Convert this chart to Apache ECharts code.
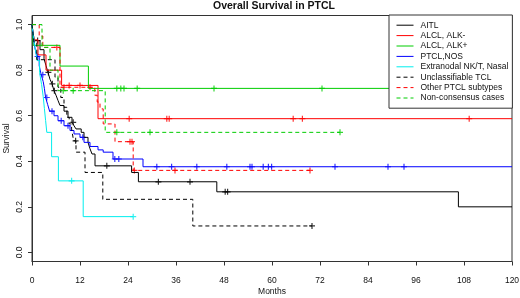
<!DOCTYPE html>
<html>
<head>
<meta charset="utf-8">
<script src="https://cdn.jsdelivr.net/npm/echarts@6/dist/echarts.min.js"></script>
<style>
  html, body { margin: 0; padding: 0; background: #fff; }
  #survivalId { width: 520px; height: 298px; }
</style>
</head>
<body>
<div id="survivalId"></div>
<script>
// month where each curve steps down, and the survival from that month on
var aitlMonths = [0, 0.3, 0.6, 2, 3, 3.5, 4, 4.5, 5, 5.5, 6, 6.5, 7, 8, 9, 10, 10.5, 11, 12.3, 13, 14, 14.5, 15, 15.75, 24.9, 26.6, 46.2, 106.6, 120];
var aitlSurv = [1, 0.96, 0.93, 0.89, 0.85, 0.82, 0.79, 0.76, 0.74, 0.71, 0.69, 0.667, 0.645, 0.62, 0.593, 0.571, 0.556, 0.542, 0.527, 0.505, 0.483, 0.455, 0.432, 0.38, 0.351, 0.31, 0.266, 0.2, 0.2];
var aitlCensor = [1.4, 4.1, 5.1, 5.6, 10.3, 18.7, 31.6, 39.5, 48.3, 48.9];

var alkNegMonths = [0, 0.5, 1.5, 3.5, 7.4, 16.5, 120];
var alkNegSurv = [1, 0.933, 0.867, 0.8, 0.733, 0.587, 0.587];
var alkNegCensor = [9.3, 12, 24.3, 33.7, 34.3, 65.3, 67.6, 109.3];

var alkPosMonths = [0, 0.3, 7, 14.1, 120];
var alkPosSurv = [1, 0.909, 0.818, 0.72, 0.72];
var alkPosCensor = [21.2, 22.2, 23, 26.3, 45.5, 72.5];

var nosMonths = [0, 0.3, 0.7, 1.2, 1.8, 2.3, 2.8, 3.1, 3.4, 3.9, 4.4, 5.5, 6.5, 8, 9.5, 10.5, 12, 13, 14.5, 16.5, 17.8, 20.25, 27.75, 120];
var nosSurv = [1, 0.95, 0.9, 0.86, 0.82, 0.78, 0.75, 0.72, 0.68, 0.65, 0.62, 0.6, 0.578, 0.556, 0.535, 0.52, 0.505, 0.483, 0.465, 0.45, 0.44, 0.41, 0.376, 0.376];
var nosCensor = [1.4, 2.7, 3.7, 5, 7.3, 9, 12.7, 20.7, 21.7, 31.2, 34.9, 41.2, 48.7, 54.5, 55, 57.8, 59.1, 59.9, 75.75, 89, 93];

var nkMonths = [0, 0.4, 0.8, 1.3, 1.9, 2.4, 2.8, 3.1, 3.4, 3.7, 4.9, 6.6, 12.8, 25.3];
var nkSurv = [1, 0.947, 0.895, 0.842, 0.789, 0.737, 0.684, 0.632, 0.579, 0.527, 0.42, 0.314, 0.157, 0.157];
var nkCensor = [9.9, 25.3];

var unclMonths = [0, 0.5, 1.2, 5.75, 6.5, 7.2, 8, 8.7, 9.3, 9.9, 10.4, 11, 13.25, 17.7, 40.2, 70];
var unclSurv = [1, 0.923, 0.846, 0.769, 0.725, 0.68, 0.637, 0.593, 0.564, 0.542, 0.49, 0.44, 0.351, 0.233, 0.116, 0.116];
var unclCensor = [10.9, 70];

var otherMonths = [0, 1.8, 2.7, 7, 15.7, 16.3, 17, 17.8, 20.75, 25.3, 69.5];
var otherSurv = [1, 0.95, 0.9, 0.725, 0.69, 0.66, 0.63, 0.564, 0.486, 0.36, 0.36];
var otherCensor = [6.2, 8, 14.5, 24.5, 25, 25.6, 35.75, 69.5];

var nonConsMonths = [0, 2.5, 4.5, 6.5, 18.3, 77];
var nonConsSurv = [1, 0.9, 0.8, 0.71, 0.527, 0.527];
var nonConsCensor = [7.8, 10.3, 21.2, 29.5, 77];

var xTicks = [0, 12, 24, 36, 48, 60, 72, 84, 96, 108, 120];
var yTicks = [0, 0.2, 0.4, 0.6, 0.8, 1.0];

var curves = [
  { name: "AITL", months: aitlMonths, surv: aitlSurv, censor: aitlCensor, color: "#000000", dashed: false },
  { name: "ALCL, ALK-", months: alkNegMonths, surv: alkNegSurv, censor: alkNegCensor, color: "#ff0000", dashed: false },
  { name: "ALCL, ALK+", months: alkPosMonths, surv: alkPosSurv, censor: alkPosCensor, color: "#00cd00", dashed: false },
  { name: "PTCL,NOS", months: nosMonths, surv: nosSurv, censor: nosCensor, color: "#0000ff", dashed: false },
  { name: "Extranodal NK/T, Nasal", months: nkMonths, surv: nkSurv, censor: nkCensor, color: "#00eeee", dashed: false },
  { name: "Unclassifiable TCL", months: unclMonths, surv: unclSurv, censor: unclCensor, color: "#000000", dashed: true },
  { name: "Other PTCL subtypes", months: otherMonths, surv: otherSurv, censor: otherCensor, color: "#ff0000", dashed: true },
  { name: "Non-consensus cases", months: nonConsMonths, surv: nonConsSurv, censor: nonConsCensor, color: "#00cd00", dashed: true },
];

// survival value of a step curve at month t
function survAt(months, surv, t) {
  var v = surv[0];
  for (var i = 0; i < months.length; i++) {
    if (months[i] <= t) v = surv[i];
  }
  return v;
}

var plusMark = "path://M0,4L10,4L10,6L0,6Z M4,0L6,0L6,10L4,10Z";
var font = "Liberation Sans, Arial, sans-serif";

var series = [];
curves.forEach(function (c) {
  series.push({
    name: c.name,
    type: "line",
    step: "end",
    symbol: "none",
    data: c.months.map(function (m, i) { return [m, c.surv[i]]; }),
    color: c.color,
    lineStyle: { width: 1, type: c.dashed ? [4, 3] : "solid" },
  });
});
curves.forEach(function (c) {
  series.push({
    name: c.name + " censored",
    type: "scatter",
    symbol: plusMark,
    symbolSize: 6,
    silent: true,
    data: c.censor.map(function (m) { return [m, survAt(c.months, c.surv, m)]; }),
    itemStyle: { color: c.color },
  });
});

var myChart = echarts.init(document.getElementById("survivalId"));
var option = {
  animation: false,
  backgroundColor: "#ffffff",
  title: {
    text: "Overall Survival in PTCL",
    left: 213,
    top: 0.5,
    padding: 0,
    textStyle: { fontFamily: font, fontSize: 10.5, fontWeight: "bold", color: "#111" },
  },
  legend: {
    data: curves.map(function (c) { return c.name; }),
    orient: "vertical",
    left: 389,
    top: 15,
    padding: [5, 4, 5, 7],
    itemWidth: 17,
    itemHeight: 10.4,
    itemGap: 0,
    itemStyle: { opacity: 0 },
    lineStyle: { width: 1 },
    backgroundColor: "#ffffff",
    borderColor: "#333",
    borderWidth: 1,
    borderRadius: 0,
    textStyle: { fontFamily: font, fontSize: 8.5, lineHeight: 10.4, color: "#111", padding: [0, 0, 0, 2] },
  },
  grid: {
    left: 32,
    right: 8,
    top: 15.5,
    bottom: 36.5,
    outerBoundsMode: "none",
    show: true,
    borderColor: "#333",
    borderWidth: 1,
  },
  xAxis: {
    type: "value",
    min: xTicks[0],
    max: xTicks[xTicks.length - 1],
    interval: 12,
    name: "Months",
    nameLocation: "middle",
    nameGap: 25.5,
    nameMoveOverlap: false,
    nameTextStyle: { fontFamily: font, fontSize: 8.5, color: "#111" },
    axisLine: { onZero: false, lineStyle: { color: "#333" } },
    axisTick: { length: 4, lineStyle: { color: "#333" } },
    axisLabel: { fontFamily: font, fontSize: 8.5, color: "#111", margin: 14.5 },
    splitLine: { show: false },
  },
  yAxis: {
    type: "value",
    min: -0.04,
    max: 1.04,
    name: "Survival",
    nameLocation: "middle",
    nameGap: 21,
    nameMoveOverlap: false,
    nameTextStyle: { fontFamily: font, fontSize: 8.5, color: "#111" },
    axisLine: { show: true, onZero: false, lineStyle: { color: "#333" } },
    axisTick: { show: true, length: 4, customValues: yTicks, lineStyle: { color: "#333" } },
    axisLabel: {
      fontFamily: font,
      fontSize: 8.5,
      color: "#111",
      rotate: 90,
      margin: 8,
      customValues: yTicks,
      formatter: function (v) { return v.toFixed(1); },
    },
    splitLine: { show: false },
  },
  series: series,
};
myChart.setOption(option);
</script>
</body>
</html>
